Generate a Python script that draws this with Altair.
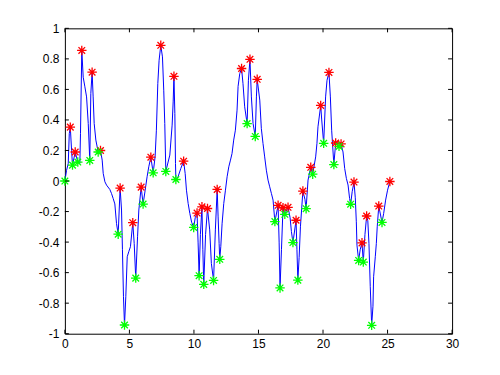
import altair as alt
import pandas as pd

# Signal (blue line)
line_x = [0, 0.13, 0.26, 0.34, 0.42, 0.52, 0.59, 0.80, 1.0, 1.16, 1.21, 1.31, 1.42, 1.55, 1.68, 1.81,
          1.93, 2.01, 2.11, 2.19, 2.27, 2.4, 2.58, 2.76, 2.89, 2.97, 3.1, 3.23, 3.48, 3.61, 3.74, 3.87,
          4.0, 4.13, 4.28, 4.39, 4.46, 4.54, 4.62, 4.72, 4.83, 4.95, 5.08, 5.26, 5.37, 5.49, 5.63, 5.73,
          5.91, 6.06, 6.22, 6.37, 6.5, 6.66, 6.84, 6.99, 7.09, 7.2, 7.3, 7.43, 7.56, 7.66, 7.74, 7.82,
          8.13, 8.31, 8.39, 8.45, 8.52, 8.57, 8.6, 8.77, 8.98, 9.2, 9.32, 9.42, 9.55, 9.68, 9.82, 9.98,
          10.10, 10.24, 10.32, 10.40, 10.5, 10.62, 10.69, 10.76, 10.9, 11.05, 11.22, 11.35, 11.52, 11.66,
          11.80, 11.87, 11.95, 12.0, 12.08, 12.18, 12.31, 12.44, 12.57, 12.7, 12.83, 12.95, 13.08, 13.21,
          13.34, 13.42, 13.55, 13.69, 13.8, 13.93, 14.12, 14.22, 14.34, 14.45, 14.58, 14.75, 14.84, 14.9,
          15.1, 15.22, 15.35, 15.48, 15.61, 15.74, 15.87, 16.0, 16.13, 16.27, 16.52, 16.6, 16.67, 16.78,
          16.9, 17.04, 17.29, 17.45, 17.55, 17.67, 17.91, 17.98, 18.05, 18.15, 18.25, 18.44, 18.6, 18.69,
          18.84, 19.05, 19.2, 19.43, 19.53, 19.61, 19.82, 19.9, 20.05, 20.2, 20.31, 20.46, 20.57, 20.67,
          20.84, 20.98, 21.24, 21.4, 21.55, 21.68, 21.81, 21.94, 22.06, 22.14, 22.26, 22.4, 22.5, 22.58,
          22.63, 22.76, 22.88, 23.02, 23.12, 23.25, 23.38, 23.47, 23.56, 23.66, 23.77, 23.87, 23.92,
          24.05, 24.13, 24.2, 24.32, 24.57, 24.7, 24.85, 25.0, 25.18]
line_y = [0, 0.07, 0.115, 0.31, 0.353, 0.20, 0.104, 0.19, 0.124, 0.115, 0.31, 0.855, 0.68, 0.617, 0.551, 0.377,
          0.135, 0.573, 0.713, 0.551, 0.377, 0.268, 0.19, 0.20, 0.137, 0.05, -0.005, -0.027, -0.055, -0.081, -0.114, -0.15,
          -0.278, -0.348, -0.046, -0.19, -0.45, -0.758, -0.943, -0.758, -0.496, -0.463, -0.43, -0.273, -0.409, -0.636, -0.365, -0.19,
          -0.04, -0.151, -0.06, 0.028, 0.093, 0.156, 0.054, 0.158, 0.333, 0.638, 0.791, 0.889, 0.813, 0.595, 0.377, 0.063,
          0.17, 0.366, 0.518, 0.686, 0.442, 0.115, 0.01, 0.028, 0.082, 0.13, 0.049, -0.06, -0.147, -0.212, -0.27, -0.304,
          -0.24, -0.21, -0.4, -0.62, -0.35, -0.169, -0.45, -0.677, -0.35, -0.18, -0.32, -0.54, -0.651, -0.32,
          -0.055, -0.23, -0.41, -0.513, -0.43, -0.28, -0.147, -0.06, 0.028, 0.093, 0.137, 0.18, 0.268, 0.333,
          0.464, 0.62, 0.704, 0.737, 0.638, 0.486, 0.376, 0.66, 0.797, 0.551, 0.377, 0.292, 0.551, 0.666,
          0.53, 0.345, 0.246, 0.158, 0.071, 0.006, -0.038, -0.081, -0.125, -0.266, -0.159, -0.4, -0.70, -0.45,
          -0.175, -0.218, -0.172, -0.24, -0.33, -0.403, -0.257, -0.45, -0.649, -0.5, -0.3, -0.066, -0.12, -0.181,
          0.006, 0.09, 0.045, 0.158, 0.246, 0.355, 0.495, 0.4, 0.247, 0.551, 0.66, 0.711, 0.551, 0.333,
          0.108, 0.249, 0.227, 0.243, 0.19, 0.082, 0.017, -0.026, -0.114, -0.152, -0.07, -0.007, -0.11, -0.267,
          -0.42, -0.52, -0.45, -0.405, -0.531, -0.35, -0.229, -0.26, -0.41, -0.692, -0.945, -0.82, -0.627,
          -0.496, -0.41, -0.30, -0.164, -0.271, -0.212, -0.125, -0.06, -0.003]

# Peaks (red) and troughs (green)
peak_x = [0.42, 0.80, 1.31, 2.11, 2.76, 4.28, 5.26, 5.91, 6.66, 7.43, 8.45, 9.2, 10.24, 10.62, 11.05,
          11.80, 13.69, 14.34, 14.9, 16.52, 16.9, 17.29, 17.91, 18.44, 19.05, 19.82, 20.46, 20.98,
          21.4, 22.4, 23.02, 23.38, 24.32, 25.18]
peak_y = [0.353, 0.19, 0.855, 0.713, 0.20, -0.046, -0.273, -0.04, 0.156, 0.889, 0.686, 0.13, -0.21, -0.169, -0.18,
          -0.055, 0.737, 0.797, 0.666, -0.159, -0.175, -0.172, -0.257, -0.066, 0.09, 0.495, 0.711, 0.249,
          0.243, -0.007, -0.405, -0.229, -0.164, -0.003]
trough_x = [0, 0.59, 1.0, 1.93, 2.58, 4.13, 4.62, 5.49, 6.06, 6.84, 7.82, 8.6, 9.98, 10.40, 10.76, 11.52,
            12.0, 14.12, 14.75, 16.27, 16.67, 17.04, 17.67, 18.05, 18.69, 19.2, 20.05, 20.84, 21.24,
            22.14, 22.76, 23.12, 23.77, 24.57]
trough_y = [0, 0.104, 0.124, 0.135, 0.19, -0.348, -0.943, -0.636, -0.151, 0.054, 0.063, 0.01, -0.304, -0.62, -0.677, -0.651,
            -0.513, 0.376, 0.292, -0.266, -0.70, -0.218, -0.403, -0.649, -0.181, 0.045, 0.247, 0.108, 0.227,
            -0.152, -0.52, -0.531, -0.945, -0.271]

x_ticks = [0, 5, 10, 15, 20, 25, 30]
y_ticks = [-1, -0.8, -0.6, -0.4, -0.2, 0, 0.2, 0.4, 0.6, 0.8, 1]

W, H = 388, 306
TL = 4
FONT = "Liberation Sans"

line_df = pd.DataFrame({"x": line_x, "y": line_y, "i": range(len(line_x))})
peak_df = pd.DataFrame({"x": peak_x, "y": peak_y})
trough_df = pd.DataFrame({"x": trough_x, "y": trough_y})
xt_df = pd.DataFrame({"x": x_ticks})
yt_df = pd.DataFrame({"y": y_ticks})

xscale = alt.Scale(domain=[0, 30], nice=False, zero=False)
yscale = alt.Scale(domain=[-1, 1], nice=False, zero=False)
xaxis = alt.Axis(values=x_ticks, tickCount=len(x_ticks), title=None, grid=False, domain=False, ticks=False,
                 labelFont=FONT, labelFontSize=12, labelColor="black", labelPadding=5,
                 labelFlush=False, labelOverlap=False, labelBound=False,
                 labelExpr="'' + datum.value")
yaxis = alt.Axis(values=y_ticks, tickCount=len(y_ticks), title=None, grid=False, domain=False, ticks=False,
                 labelFont=FONT, labelFontSize=12, labelColor="black", labelPadding=6,
                 labelFlush=False, labelOverlap=False, labelBound=False,
                 labelExpr="'' + datum.value")

star = "M-1,0L1,0M0,-1L0,1M-0.7,-0.7L0.7,0.7M-0.7,0.7L0.7,-0.7"

line = alt.Chart(line_df).mark_line(color="#0000ff", strokeWidth=1).encode(
    x=alt.X("x:Q", scale=xscale, axis=xaxis),
    y=alt.Y("y:Q", scale=yscale, axis=yaxis),
    order="i:Q",
)
peaks = alt.Chart(peak_df).mark_point(shape=star, filled=False, color="#ff0000", size=90,
                                      strokeWidth=1.3, opacity=1).encode(x="x:Q", y="y:Q")
troughs = alt.Chart(trough_df).mark_point(shape=star, filled=False, color="#00ff00", size=90,
                                          strokeWidth=1.3, opacity=1).encode(x="x:Q", y="y:Q")

xt_bot = alt.Chart(xt_df).mark_rule(color="black", strokeWidth=1).encode(
    x="x:Q", y=alt.value(H), y2=alt.value(H - TL))
xt_top = alt.Chart(xt_df).mark_rule(color="black", strokeWidth=1).encode(
    x="x:Q", y=alt.value(0), y2=alt.value(TL))
yt_left = alt.Chart(yt_df).mark_rule(color="black", strokeWidth=1).encode(
    y="y:Q", x=alt.value(0), x2=alt.value(TL))
yt_right = alt.Chart(yt_df).mark_rule(color="black", strokeWidth=1).encode(
    y="y:Q", x=alt.value(W), x2=alt.value(W - TL))

chart = alt.layer(line, peaks, troughs, xt_bot, xt_top, yt_left, yt_right).properties(
    width=W, height=H,
    autosize=alt.AutoSizeParams(type="none"),
    padding={"left": 57, "top": 20, "right": 40, "bottom": 40},
    background="white",
).configure_view(stroke="black", strokeWidth=1)

chart.save("out.html", embed_options={"renderer": "svg", "actions": False})
